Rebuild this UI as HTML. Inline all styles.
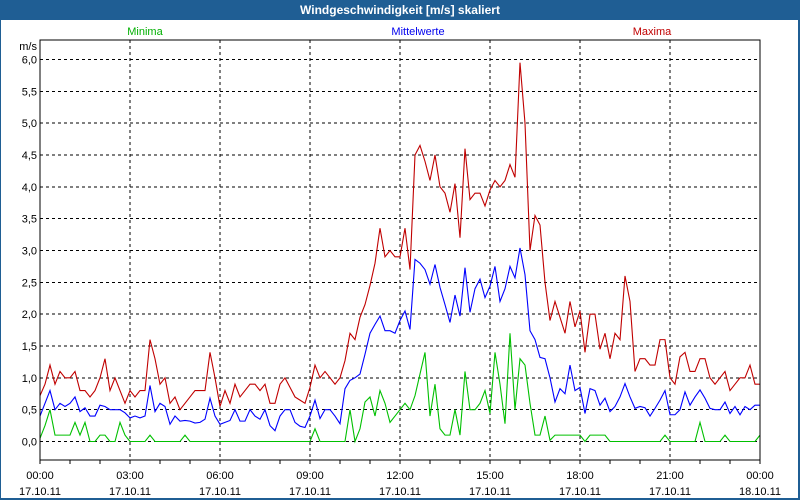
<!DOCTYPE html>
<html><head><meta charset="utf-8"><style>
html,body{margin:0;padding:0;width:800px;height:500px;overflow:hidden;background:#1f5e94;}
svg{display:block;font-family:"Liberation Sans",sans-serif;}
</style></head><body>
<svg id="chart" width="800" height="500">
<rect x="0" y="0" width="800" height="500" fill="#1f5e94"/>
<text x="400" y="14" text-anchor="middle" fill="#fff" font-size="12" font-weight="bold">Windgeschwindigkeit [m/s] skaliert</text>
<rect x="1" y="20" width="797" height="478" fill="#fff"/>
<text x="145" y="35" text-anchor="middle" fill="#00b000" font-size="11">Minima</text>
<text x="418" y="35" text-anchor="middle" fill="#0000ee" font-size="11">Mittelwerte</text>
<text x="652" y="35" text-anchor="middle" fill="#c00000" font-size="11">Maxima</text>
<text x="37" y="50" text-anchor="end" font-size="11">m/s</text>
<g id="grid"></g><g id="series"></g><g id="axes"></g>
</svg>
<script>
const yTicks=[0,0.5,1,1.5,2,2.5,3,3.5,4,4.5,5,5.5,6];
const xTickHours=[0,3,6,9,12,15,18,21,24];
const xTickTimes=["00:00","03:00","06:00","09:00","12:00","15:00","18:00","21:00","00:00"];
const xTickDates=["17.10.11","17.10.11","17.10.11","17.10.11","17.10.11","17.10.11","17.10.11","17.10.11","18.10.11"];
const maxima=[0.72,0.9,1.2,0.9,1.1,1.0,1.0,1.1,0.8,0.8,0.7,0.8,1.0,1.3,0.8,1.0,0.8,0.6,0.8,0.7,0.8,0.8,1.6,1.3,0.9,1.0,0.6,0.7,0.5,0.6,0.7,0.8,0.8,0.8,1.4,1.0,0.55,0.8,0.6,0.9,0.7,0.8,0.9,0.9,0.8,0.9,0.6,0.6,0.9,1.0,0.85,0.7,0.65,0.6,0.85,1.2,1.0,1.1,1.0,0.9,1.0,1.27,1.7,1.6,1.95,2.15,2.45,2.8,3.35,2.9,3.0,2.9,2.9,3.35,2.7,4.5,4.65,4.4,4.1,4.5,4.0,3.9,3.6,4.05,3.2,4.6,3.8,3.9,3.9,3.7,3.95,4.1,4.0,4.1,4.35,4.15,5.95,5.0,3.0,3.55,3.4,2.5,1.9,2.2,1.95,1.7,2.2,1.8,2.05,1.4,2.0,2.0,1.45,1.7,1.3,1.7,1.6,2.6,2.2,1.1,1.3,1.3,1.2,1.2,1.6,1.6,1.0,0.9,1.33,1.4,1.1,1.1,1.3,1.3,1.0,0.9,1.0,1.1,0.8,0.9,1.0,1.0,1.2,0.9,0.9];
const mittel=[0.4,0.6,0.8,0.5,0.6,0.55,0.6,0.7,0.47,0.53,0.4,0.4,0.57,0.55,0.5,0.5,0.5,0.45,0.37,0.4,0.37,0.4,0.88,0.47,0.6,0.55,0.27,0.4,0.32,0.33,0.32,0.29,0.3,0.35,0.68,0.4,0.27,0.3,0.33,0.5,0.32,0.32,0.5,0.4,0.35,0.5,0.25,0.17,0.4,0.5,0.5,0.3,0.24,0.22,0.4,0.65,0.36,0.5,0.5,0.4,0.28,0.83,0.96,1.0,1.06,1.37,1.7,1.84,1.97,1.74,1.74,1.7,1.9,2.05,1.76,2.86,2.8,2.7,2.47,2.78,2.42,2.15,1.87,2.3,1.97,2.73,2.03,2.4,2.55,2.26,2.44,2.75,2.2,2.4,2.75,2.57,3.04,2.62,1.74,1.6,1.32,1.3,1.0,0.62,0.83,0.75,1.2,0.8,0.85,0.44,0.83,0.8,0.57,0.68,0.47,0.55,0.7,0.91,0.7,0.52,0.55,0.53,0.4,0.52,0.65,0.8,0.42,0.42,0.5,0.78,0.57,0.7,0.81,0.68,0.52,0.5,0.5,0.62,0.44,0.55,0.42,0.55,0.5,0.57,0.57];
const minima=[0.05,0.25,0.5,0.1,0.1,0.1,0.1,0.3,0.1,0.3,0,0,0.1,0.1,0,0,0.3,0.1,0,0,0,0,0.1,0,0,0,0,0,0,0.1,0,0,0,0,0,0,0,0,0,0,0,0,0,0,0,0,0,0,0,0,0,0,0,0,0,0.2,0,0,0,0,0,0,0.5,0,0.2,0.62,0.7,0.4,0.8,0.6,0.3,0.4,0.5,0.6,0.5,0.72,1.06,1.4,0.4,0.9,0.2,0.1,0.1,0.5,0.1,1.1,0.5,0.5,0.6,0.8,0.44,1.4,0.9,0.28,1.7,0.5,1.3,1.2,0.6,0.1,0.1,0.4,0.02,0.1,0.1,0.1,0.1,0.1,0.1,0,0.1,0.1,0.1,0.1,0,0,0,0,0,0,0,0,0,0,0,0.1,0,0,0,0,0,0,0.3,0,0,0,0,0.1,0,0,0,0,0,0,0.1];
const X0=40,X1=760,YT=40,YB=460;
const xs=h=>X0+(X1-X0)*h/24;
const xi=i=>xs(i/6);
const ys=v=>441.5-v*63.67;
const NS="http://www.w3.org/2000/svg";
function mk(tag,attrs,parent){const e=document.createElementNS(NS,tag);for(const k in attrs)e.setAttribute(k,attrs[k]);parent.appendChild(e);return e;}
const grid=document.getElementById('grid'),axes=document.getElementById('axes'),ser=document.getElementById('series');
yTicks.forEach(v=>{
 const l=mk('line',{x1:X0,x2:X1,y1:ys(v),y2:ys(v),stroke:'#000','stroke-dasharray':'3,3','shape-rendering':'crispEdges'},grid);
 
 
 const t=mk('text',{x:37,y:ys(v)+4,'text-anchor':'end','font-size':11},axes);
 t.textContent=v.toFixed(1).replace('.',',');
 
 
});
xTickHours.forEach((h,i)=>{
 if(h>0&&h<24){const l=mk('line',{x1:xs(h),x2:xs(h),y1:YT,y2:YB,stroke:'#000','stroke-dasharray':'3,3','shape-rendering':'crispEdges'},grid);
 
 }
 const t=mk('text',{x:xs(h),y:479,'text-anchor':'middle','font-size':11},axes);
 t.textContent=xTickTimes[i];
 
 
 const d=mk('text',{x:xs(h),y:495,'text-anchor':'middle','font-size':11},axes);
 d.textContent=xTickDates[i];
 
 
});
for(let h=0;h<=24;h++){const l=mk('line',{x1:xs(h),x2:xs(h),y1:YB,y2:YB+4,stroke:'#000','shape-rendering':'crispEdges'},axes);
 
 }
const fr=mk('rect',{x:X0,y:YT,width:X1-X0,height:YB-YT,fill:'none',stroke:'#000','shape-rendering':'crispEdges'},axes);


function line(arr,col,name){const p=mk('polyline',{points:arr.map((v,i)=>xi(i)+','+ys(v)).join(' '),fill:'none',stroke:col,'stroke-width':1.1},ser);
 
 }
line(minima,'#00c000','minima-line');
line(mittel,'#0000ff','mittelwerte-line');
line(maxima,'#c00000','maxima-line');
</script>
</body></html>
